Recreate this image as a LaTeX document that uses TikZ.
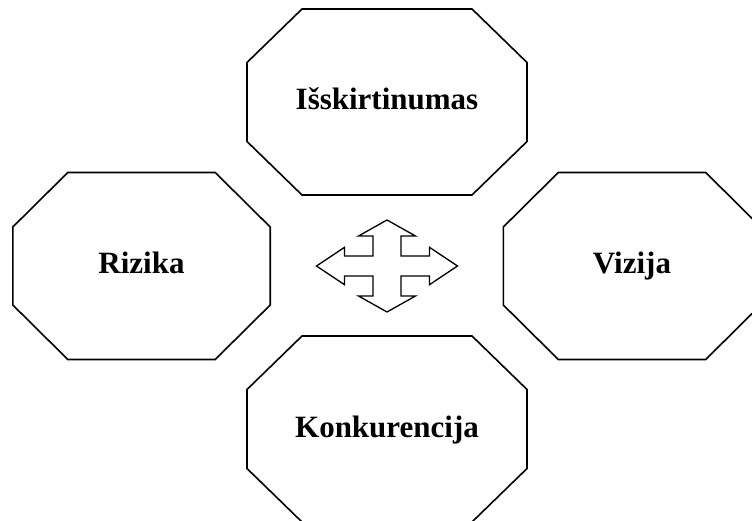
\documentclass[tikz,border=0pt]{standalone}
\usepackage{fontspec}
\setmainfont{Liberation Serif}
\begin{document}
\begin{tikzpicture}[x=1pt,y=-1pt,
  octa/.style={draw=black,line width=1.6pt,line join=miter},
  boxlabel/.style={font=\fontsize{31}{37}\selectfont\bfseries,anchor=base,inner sep=0pt},
  crossarrow/.style={draw=black,line width=1.3pt,fill=white,line join=miter},
  pics/octagon/.style n args={3}{code={%
    % #1 half width, #2 half height, #3 vertical corner cut (horizontal cut is 55)
    \draw[octa] (-#1+55,-#2) -- (#1-55,-#2) -- (#1,-#2+#3) -- (#1,#2-#3)
      -- (#1-55,#2) -- (-#1+55,#2) -- (-#1,#2-#3) -- (-#1,-#2+#3) -- cycle;}}]
\useasboundingbox (0,0) rectangle (752,521);
\clip (0,0) rectangle (752,521);

% four octagonal boxes
\pic (topbox) at (387,102) {octagon={140}{93}{53.5}};
\pic (leftbox) at (141.5,266) {octagon={128.7}{93.5}{54.5}};
\pic (rightbox) at (632,266) {octagon={128.7}{93.5}{54.5}};
\pic (bottombox) at (387,429) {octagon={140}{93}{53.5}};

\node[boxlabel] (top) at (387,110) {Išskirtinumas};
\node[boxlabel] (left) at (141.5,274) {Rizika};
\node[boxlabel] (right) at (632,274) {Vizija};
\node[boxlabel] (bottom) at (387,437) {Konkurencija};

% four-way arrow in the middle
\coordinate (hub) at (387,266);
\draw[crossarrow,shift={(hub)}]
  (0,-46) -- (28.5,-30) -- (14,-30) -- (14,-10) -- (42.5,-10) -- (42.5,-18.7)
  -- (70.5,0) -- (42.5,18.7) -- (42.5,10) -- (14,10) -- (14,30) -- (28.5,30)
  -- (0,46) -- (-28.5,30) -- (-14,30) -- (-14,10) -- (-42.5,10) -- (-42.5,18.7)
  -- (-70.5,0) -- (-42.5,-18.7) -- (-42.5,-10) -- (-14,-10) -- (-14,-30)
  -- (-28.5,-30) -- cycle;
\end{tikzpicture}
\end{document}
